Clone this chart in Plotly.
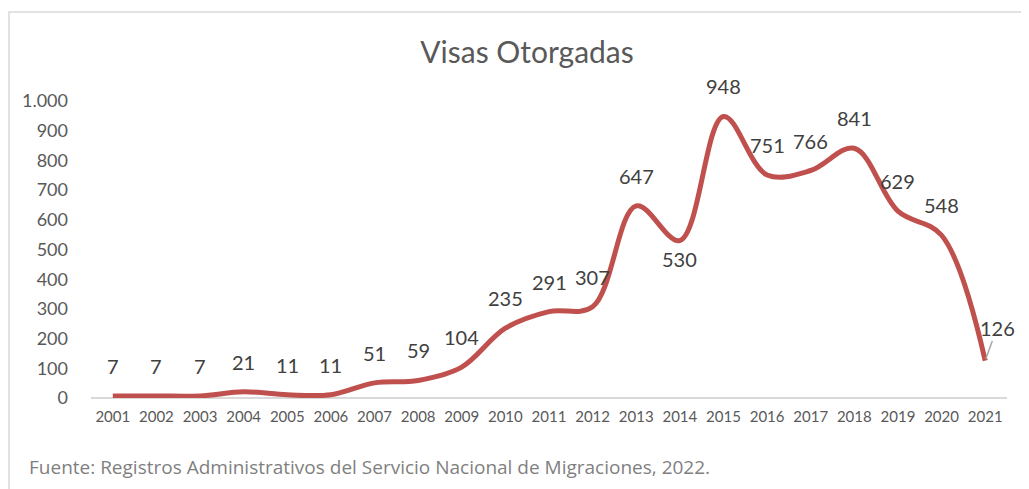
import plotly.graph_objects as go

years = list(range(2001, 2022))
visas = [7, 7, 7, 21, 11, 11, 51, 59, 104, 235, 291, 307, 647, 530, 948, 751, 766, 841, 629, 548, 126]
y_ticks = [0, 100, 200, 300, 400, 500, 600, 700, 800, 900, 1000]

title_text = "Visas Otorgadas"
source_text = "Fuente: Registros Administrativos del Servicio Nacional de Migraciones, 2022."

FONT = "Lato, Open Sans, sans-serif"

# page body adds an 8px margin; work in figure pixels = reference pixels - 8
OFF = 8
W, H = 1029 - OFF, 489 - OFF

fig = go.Figure()
fig.add_trace(go.Scatter(
    x=years, y=visas, mode="lines",
    line=dict(color="#C0504D", width=5, shape="spline", smoothing=1.0),
    hoverinfo="x+y", showlegend=False,
))

annotations = []
for yr, v in zip(years, visas):
    if v == 126:
        annotations.append(dict(
            x=yr, y=v, xref="x", yref="y", text=str(v),
            showarrow=True, arrowhead=0, arrowwidth=1.5, arrowcolor="#A6A6A6",
            ax=12, ay=-33, standoff=2,
            font=dict(family=FONT, size=20, color="#404040"),
        ))
    else:
        shift_y = -18 if v == 530 else 30
        annotations.append(dict(
            x=yr, y=v, xref="x", yref="y", text=str(v), showarrow=False,
            yshift=shift_y,
            font=dict(family=FONT, size=20, color="#404040"),
        ))

# plot area in reference px: x 91..1007, y 101..398
L, R, T, B = 91 - OFF, 1007 - OFF, 101 - OFF, 398 - OFF
PW, PH = R - L, B - T
annotations.append(dict(
    x=(27 - OFF - L) / PW, y=(B - (467 - OFF)) / PH, xref="paper", yref="paper",
    xanchor="left", yanchor="middle", showarrow=False, text=source_text,
    font=dict(family="Open Sans, sans-serif", size=19, color="#7F7F7F"),
))

fig.update_layout(
    width=W, height=H,
    margin=dict(l=L, r=W - R, t=T, b=H - B, autoexpand=False),
    paper_bgcolor="white", plot_bgcolor="white",
    separators=",.",
    title=dict(text=title_text, x=(527 - OFF) / W, xanchor="center", y=1 - (52 - OFF) / H, yanchor="middle",
               font=dict(family=FONT, size=30, color="#595959")),
    annotations=annotations,
    shapes=[dict(type="rect", xref="paper", yref="paper",
                 x0=(9 - OFF - L) / PW, x1=(1040 - OFF - L) / PW,
                 y0=(B - 520) / PH, y1=(B - (12 - OFF)) / PH,
                 line=dict(color="#D9D9D9", width=1.5), fillcolor="rgba(0,0,0,0)", layer="below")],
    xaxis=dict(range=[2000.5, 2021.5], tickvals=years, ticktext=[str(y) for y in years],
               showgrid=False, zeroline=False, showline=False, automargin=False,
               ticks="", tickfont=dict(family=FONT, size=15, color="#595959"), ticklabelstandoff=8),
    yaxis=dict(range=[0, 1000], tickvals=y_ticks, showgrid=False, zeroline=True,
               zerolinecolor="#D9D9D9", zerolinewidth=2, showline=False, automargin=False,
               separatethousands=True, tickformat=",d",
               tickfont=dict(family=FONT, size=18, color="#595959"), ticklabelstandoff=22),
)

fig.write_html("out.html")
